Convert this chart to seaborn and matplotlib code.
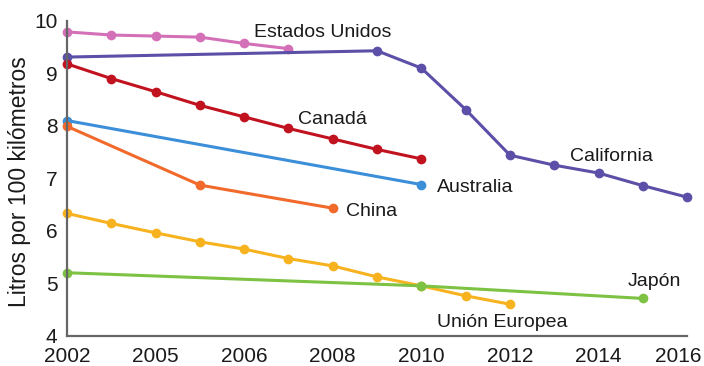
import matplotlib
matplotlib.use("Agg")
import matplotlib.pyplot as plt
import matplotlib.transforms as mtransforms
import pandas as pd
import seaborn as sns

# Fuel consumption series (litres per 100 km) by region
us_years = [2002, 2003, 2004, 2005, 2006, 2007]
us_vals = [9.79, 9.73, 9.71, 9.69, 9.57, 9.47]

cal_years = [2002, 2009, 2010, 2011, 2012, 2013, 2014, 2015, 2016]
cal_vals = [9.31, 9.43, 9.10, 8.31, 7.44, 7.25, 7.10, 6.86, 6.64]

can_years = [2002, 2003, 2004, 2005, 2006, 2007, 2008, 2009, 2010]
can_vals = [9.18, 8.90, 8.65, 8.39, 8.17, 7.95, 7.75, 7.55, 7.37]

aus_years = [2002, 2010]
aus_vals = [8.10, 6.88]

chn_years = [2002, 2005, 2008]
chn_vals = [7.99, 6.87, 6.43]

eu_years = [2002, 2003, 2004, 2005, 2006, 2007, 2008, 2009, 2010, 2011, 2012]
eu_vals = [6.33, 6.14, 5.96, 5.79, 5.65, 5.47, 5.33, 5.12, 4.95, 4.76, 4.60]

jpn_years = [2002, 2010, 2015]
jpn_vals = [5.20, 4.95, 4.71]

x_tick_pos = [2002, 2004, 2006, 2008, 2010, 2012, 2014, 2016]
x_tick_labels = ["2002", "2005", "2006", "2008", "2010", "2012", "2014", "2016"]
y_ticks = [4, 5, 6, 7, 8, 9, 10]

series = [
    ("Estados Unidos", us_years, us_vals, "#d470b8"),
    ("California", cal_years, cal_vals, "#5b4fa8"),
    ("Canadá", can_years, can_vals, "#c1121f"),
    ("Australia", aus_years, aus_vals, "#3b8fd8"),
    ("China", chn_years, chn_vals, "#f26a2b"),
    ("Unión Europea", eu_years, eu_vals, "#f7b31f"),
    ("Japón", jpn_years, jpn_vals, "#7dc243"),
]

frames = []
for name, yrs, vals, _ in series:
    frames.append(pd.DataFrame({"año": yrs, "valor": vals, "región": name}))
df = pd.concat(frames, ignore_index=True)
palette = {name: col for name, _, _, col in series}

sns.set_style("white")
plt.rcParams["font.family"] = ["Liberation Sans", "DejaVu Sans"]

fig = plt.figure(figsize=(7.04, 3.66), dpi=100)
ax = fig.add_axes([0.0952, 0.0828, 0.976 - 0.0952, 0.943 - 0.0828])

sns.lineplot(
    data=df, x="año", y="valor", hue="región", palette=palette,
    hue_order=[s[0] for s in series], marker="o", markersize=7,
    markeredgewidth=0, linewidth=2.2, legend=False, sort=False, ax=ax,
    estimator=None,
)
for line in ax.get_lines():
    line.set_clip_on(False)

ax.set_xlim(2002, 2016)
ax.set_ylim(4, 10)
ax.set_xticks(x_tick_pos)
ax.set_xticklabels(x_tick_labels)
ax.set_yticks(y_ticks)
ax.set_xlabel("")
ax.set_ylabel("Litros por 100 kilómetros", fontsize=16.5, color="#1a1a1a")
ax.yaxis.set_label_coords(-0.058, 0.49)

for side in ("top", "right"):
    ax.spines[side].set_visible(False)
for side in ("left", "bottom"):
    ax.spines[side].set_color("#666666")
    ax.spines[side].set_linewidth(1.6)
ax.tick_params(axis="both", colors="#1a1a1a", length=4, width=1.2)
ax.tick_params(axis="both", color="#666666")
ax.tick_params(axis="x", labelsize=15, pad=4)
ax.tick_params(axis="y", labelsize=15, pad=3)

# keep the last year label inside the figure
last = ax.get_xticklabels()[-1]
last.set_transform(last.get_transform() + mtransforms.ScaledTranslation(
    -9 / 100, 0, fig.dpi_scale_trans))

label_kw = dict(fontsize=14, color="#1a1a1a")
ax.text(2007.77, 9.78, "Estados Unidos", ha="center", va="center", **label_kw)
ax.text(2008.0, 8.12, "Canadá", ha="center", va="center", **label_kw)
ax.text(2014.3, 7.42, "California", ha="center", va="center", **label_kw)
ax.text(2010.35, 6.82, "Australia", ha="left", va="center", **label_kw)
ax.text(2008.3, 6.37, "China", ha="left", va="center", **label_kw)
ax.text(2015.25, 5.04, "Japón", ha="center", va="center", **label_kw)
ax.text(2010.35, 4.26, "Unión Europea", ha="left", va="center", **label_kw)

fig.savefig("out.png", dpi=100)
